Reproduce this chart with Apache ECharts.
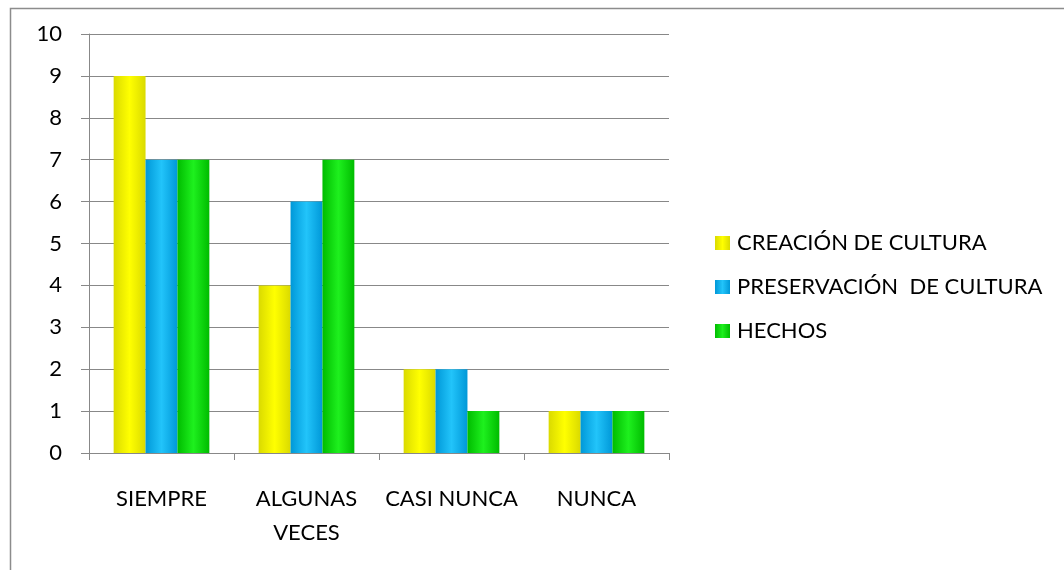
<!DOCTYPE html>
<html><head><meta charset="utf-8">
<script src="https://cdn.jsdelivr.net/npm/echarts@6/dist/echarts.min.js"></script>
<style>html,body{margin:0;padding:0;background:#fff}#c{width:1064px;height:570px}</style>
</head><body><div id="c"></div>
<script>
const categories = ['SIEMPRE', 'ALGUNAS\nVECES', 'CASI NUNCA', 'NUNCA'];
const seriesNames = ['CREACIÓN DE CULTURA', 'PRESERVACIÓN  DE CULTURA', 'HECHOS'];
const creacion = [9, 4, 2, 1];
const preservacion = [7, 6, 2, 1];
const hechos = [7, 7, 1, 1];
const yTicks = [0, 1, 2, 3, 4, 5, 6, 7, 8, 9, 10];

const FONT = 'Lato, "Open Sans", sans-serif';
function grad(edge, mid) {
  return new echarts.graphic.LinearGradient(0, 0, 1, 0, [
    { offset: 0, color: edge }, { offset: 0.5, color: mid }, { offset: 1, color: edge }
  ]);
}
const colors = [grad('#dada00', '#ffff00'), grad('#0098d8', '#22c4fa'), grad('#00bc00', '#1ef01e')];
const data = [creacion, preservacion, hechos];

const chart = echarts.init(document.getElementById('c'));
chart.setOption({
  animation: false,
  graphic: [{ type: 'rect', left: 8, top: 6, shape: { width: 1070, height: 563 }, style: { fill: 'none', stroke: '#8c8c8c', lineWidth: 1.5 }, silent: true }],
  grid: { left: 89, right: 395, top: 34, bottom: 117 },
  legend: {
    orient: 'vertical', left: 710, top: 226, itemGap: 20, itemWidth: 15, itemHeight: 14,
    icon: 'rect',
    textStyle: { fontFamily: FONT, fontSize: 22, lineHeight: 24, color: '#000', padding: [0, 0, 0, 2] },
    data: seriesNames
  },
  xAxis: {
    type: 'category', data: categories,
    axisLine: { lineStyle: { color: '#888', width: 1 } },
    axisTick: { show: true, length: 7, lineStyle: { color: '#888' } },
    axisLabel: { fontFamily: FONT, fontSize: 22, color: '#000', margin: 29, lineHeight: 34, interval: 0 }
  },
  yAxis: {
    type: 'value', min: yTicks[0], max: yTicks[yTicks.length - 1], interval: 1,
    axisLine: { show: true, lineStyle: { color: '#888' } },
    axisTick: { show: true, length: 8, lineStyle: { color: '#888' } },
    splitLine: { lineStyle: { color: '#888', width: 1 } },
    axisLabel: { fontFamily: FONT, fontSize: 22, color: '#000', margin: 27 }
  },
  series: seriesNames.map((n, i) => ({
    name: n, type: 'bar', data: data[i], barGap: '0%', barCategoryGap: '34%',
    itemStyle: { color: colors[i] }
  }))
});
</script></body></html>
